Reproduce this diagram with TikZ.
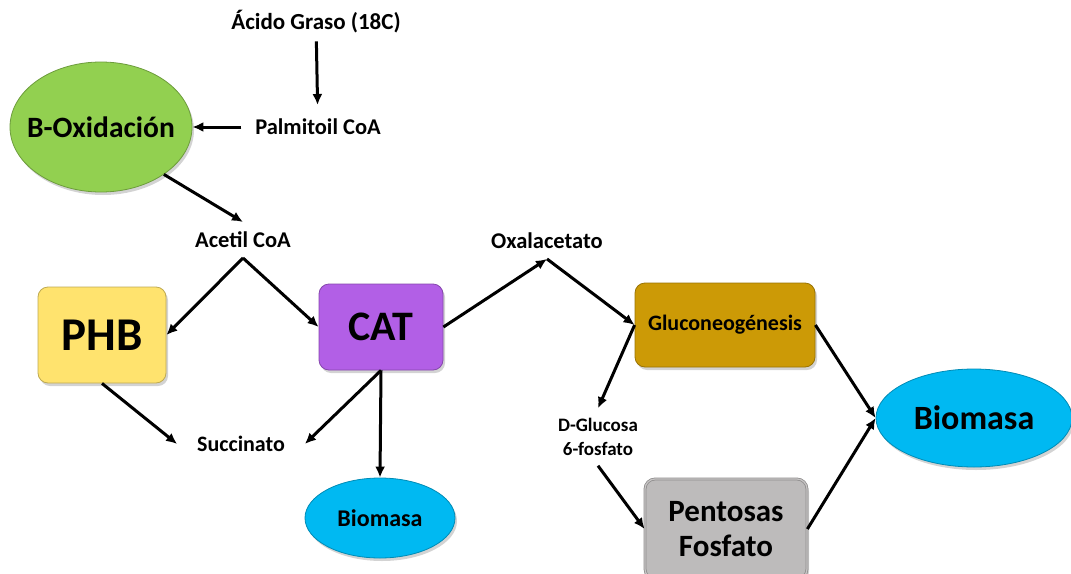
\documentclass[tikz,border=0pt]{standalone}
\usepackage{fontspec}
\setmainfont{Carlito}
\usetikzlibrary{arrows.meta, positioning, shapes.geometric, shadows}
\usepackage{xcolor}
\definecolor{oxic}{HTML}{92D050}
\definecolor{phbc}{HTML}{FFE36E}
\definecolor{catc}{HTML}{B25FE6}
\definecolor{gluc}{HTML}{CC9A06}
\definecolor{penc}{HTML}{BDBBBB}
\definecolor{bioc}{HTML}{00B9F2}

\begin{document}
\begin{tikzpicture}[
    x=1pt, y=-1pt,
    >={Latex[length=11pt, width=10pt]},
    arr/.style={->, line width=3pt},
    lbl/.style={inner sep=0pt, font=\fontsize{22.5}{25}\selectfont\bfseries, align=center},
    box/.style={rectangle, rounded corners=10pt, draw=#1!75!black, line width=0.8pt, fill=#1,
                drop shadow={opacity=0.35, shadow xshift=2pt, shadow yshift=-3pt}},
    oval/.style={ellipse, inner sep=0pt, draw=#1!75!black, line width=0.8pt, fill=#1,
                 drop shadow={opacity=0.35, shadow xshift=2pt, shadow yshift=-3pt}}]

  \useasboundingbox (0,0) rectangle (1071,573);

  % left branch: fatty acid -> beta oxidation -> acetyl CoA
  \node[lbl, outer sep=8pt, font=\fontsize{23}{25}\selectfont\bfseries] (acido) at (316,22) {Ácido Graso (18C)};
  \node[lbl, outer sep=14pt] (palm) at (318,127) {Palmitoil CoA};
  \node[oval=oxic, minimum width=182pt, minimum height=130pt,
        label={[font=\fontsize{29.5}{32}\selectfont\bfseries]center:B-Oxidación}] (boxid) at (101,127) {};
  \node[lbl, outer ysep=10pt] (acetil) at (243,240) {Acetil CoA};

  % middle: PHB, CAT and their products
  \node[box=phbc, minimum width=128pt, minimum height=96pt,
        font=\fontsize{47}{50}\selectfont\bfseries] (phb) at (102,335) {PHB};
  \node[box=catc, minimum width=124pt, minimum height=86pt,
        font=\fontsize{42}{44}\selectfont\bfseries] (cat) at (381,327) {CAT};
  \node[lbl, outer xsep=20pt, font=\fontsize{22}{24}\selectfont\bfseries] (succ) at (241,444) {Succinato};
  \node[oval=bioc, minimum width=150pt, minimum height=80pt,
        label={[font=\fontsize{24}{26}\selectfont\bfseries]center:Biomasa}] (biochico) at (380,518) {};

  % right: oxaloacetate -> gluconeogenesis -> biomass
  \node[lbl, outer ysep=10pt] (oxal) at (547,241) {Oxalacetato};
  \node[box=gluc, minimum width=180pt, minimum height=84pt,
        font=\fontsize{22}{24}\selectfont\bfseries] (gluco) at (725,325) {Gluconeogénesis};
  \node[lbl, outer ysep=10pt, font=\fontsize{19}{24}\selectfont\bfseries] (dglu) at (598,437) {D-Glucosa\\6-fosfato};
  \node[box=penc, minimum width=162pt, minimum height=100pt, double=penc!85!white,
        double distance=1.2pt, align=center,
        font=\fontsize{31}{35}\selectfont\bfseries] (pent) at (726,529) {Pentosas\\Fosfato};
  \node[oval=bioc, minimum width=196pt, minimum height=98pt,
        label={[font=\fontsize{34}{36}\selectfont\bfseries]center:Biomasa}] (biogrande) at (974,418) {};

  % arrows
  \draw[arr] (acido) -- (palm);
  \draw[arr] (palm.west) -- (boxid.east);
  \draw[arr] (boxid.-37) -- (acetil.north);
  \draw[arr] (acetil.south) -- (phb.east);
  \draw[arr] (acetil.south) -- (cat.west);
  \draw[arr] (phb.south) -- (succ.west);
  \draw[arr] (cat.south) -- (succ.east);
  \draw[arr] (cat.south) -- (biochico.north);
  \draw[arr] (cat.east) -- (oxal.south);
  \draw[arr] (oxal.south) -- (gluco.west);
  \draw[arr] (gluco.west) -- (dglu.north);
  \draw[arr] (dglu.south) -- (pent.west);
  \draw[arr] (gluco.east) -- (biogrande.west);
  \draw[arr] (pent.east) -- (biogrande.west);
\end{tikzpicture}
\end{document}
